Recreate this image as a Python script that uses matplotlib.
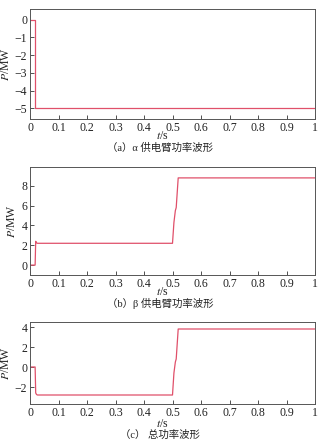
import matplotlib
matplotlib.use("Agg")
import matplotlib.pyplot as plt

plt.rcParams["mathtext.fontset"] = "stix"

# Data (breakpoints of the waveforms)
t_a = [0, 0.018, 0.018, 1.0]
p_a = [0, 0, -5.0, -5.0]

t_b = [0, 0.018, 0.020, 0.023, 0.026, 0.500, 0.505, 0.510, 0.513, 0.520, 1.0]
p_b = [0, 0, 2.4, 2.25, 2.2, 2.2, 4.3, 5.5, 5.8, 8.8, 8.8]

t_c = [0, 0.018, 0.020, 0.023, 0.026, 0.500, 0.505, 0.510, 0.513, 0.520, 1.0]
p_c = [0, 0, -2.6, -2.75, -2.8, -2.8, -0.6, 0.5, 0.8, 3.8, 3.8]

xticks = [0, 0.1, 0.2, 0.3, 0.4, 0.5, 0.6, 0.7, 0.8, 0.9, 1]
xticklabels = ["0", "0.1", "0.2", "0.3", "0.4", "0.5", "0.6", "0.7", "0.8", "0.9", "1"]
yticks_a = [0, -1, -2, -3, -4, -5]
yticks_b = [0, 2, 4, 6, 8]
yticks_c = [-2, 0, 2, 4]
captions = ["（a）α 供电臂功率波形", "（b）β 供电臂功率波形", "（c） 总功率波形"]

W, H = 327, 442
fig = plt.figure(figsize=(W / 100, H / 100), dpi=100)

serif = ["Liberation Serif", "DejaVu Serif"]
cjk = ["Liberation Serif", "Noto Sans CJK SC", "DejaVu Sans"]
line_color = "#e0506a"
fs = 8.5

# axes boxes in pixels: (left, top, right, bottom)
boxes = [(30, 9, 315, 119), (30, 167, 315, 275), (30, 322, 315, 404)]
ylims = [(-5.6, 0.6), (-1.0, 9.9), (-3.7, 4.5)]
series = [(t_a, p_a, yticks_a), (t_b, p_b, yticks_b), (t_c, p_c, yticks_c)]
xlabel_y = [136, 292, 424]
caption_y = [148, 303, 435]

for i in range(3):
    l, t, r, b = boxes[i]
    ax = fig.add_axes([l / W, 1 - b / H, (r - l) / W, (b - t) / H])
    tt, pp, yt = series[i]
    ax.plot(tt, pp, color=line_color, lw=0.9)
    ax.set_xlim(0, 1)
    ax.set_ylim(*ylims[i])
    ax.set_xticks(xticks)
    ax.set_xticklabels(xticklabels)
    ax.set_yticks(yt)
    ax.set_yticklabels([str(v).replace("-", "\u2212") for v in yt])
    ax.tick_params(direction="in", length=3, width=0.6, labelsize=fs, pad=2,
                   colors="#333333", labelcolor="#222222")
    for lab in ax.get_xticklabels() + ax.get_yticklabels():
        lab.set_family(serif)
    for sp in ax.spines.values():
        sp.set_linewidth(0.7)
        sp.set_color("#555555")
    ax.set_ylabel("$P$/MW", fontsize=fs, family=serif, labelpad=2, color="#222222")
    fig.text(162 / W, 1 - xlabel_y[i] / H, "$t$/s", ha="center", va="center",
             fontsize=fs, family=serif, color="#222222")
    fig.text(160 / W, 1 - caption_y[i] / H, captions[i], ha="center", va="center",
             fontsize=7.5, family=cjk, color="#222222")

fig.savefig("out.png", dpi=100)
